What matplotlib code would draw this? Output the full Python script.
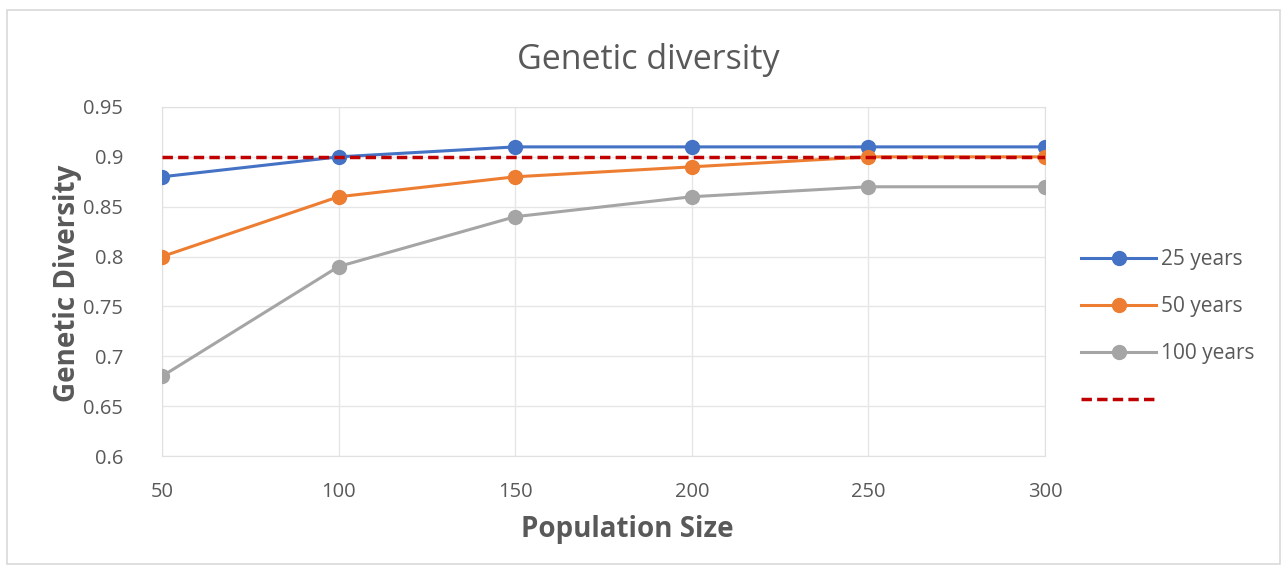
import matplotlib
matplotlib.use("Agg")
import matplotlib.pyplot as plt
from matplotlib.patches import Rectangle

plt.rcParams['font.family'] = ['Open Sans', 'DejaVu Sans']

population = [50, 100, 150, 200, 250, 300]
years25 = [0.88, 0.90, 0.91, 0.91, 0.91, 0.91]
years50 = [0.80, 0.86, 0.88, 0.89, 0.90, 0.90]
years100 = [0.68, 0.79, 0.84, 0.86, 0.87, 0.87]
threshold = [0.90] * len(population)
yticks = [0.6, 0.65, 0.7, 0.75, 0.8, 0.85, 0.9, 0.95]
ytick_labels = ['0.6', '0.65', '0.7', '0.75', '0.8', '0.85', '0.9', '0.95']

fig = plt.figure(figsize=(12.87, 5.69), dpi=100)
fig.patches.append(Rectangle((7/1287, 5/569), 1273/1287, 554/569, transform=fig.transFigure,
                             fill=False, edgecolor='#D9D9D9', linewidth=1.2))
ax = fig.add_axes([162/1287, 113/569, 883/1287, 349/569])

ax.plot(population, years25, color='#4472C4', marker='o', markersize=10, linewidth=2.2, label='25 years', zorder=4)
ax.plot(population, years50, color='#ED7D31', marker='o', markersize=10, linewidth=2.2, label='50 years', zorder=4)
ax.plot(population, years100, color='#A5A5A5', marker='o', markersize=10, linewidth=2.2, label='100 years', zorder=4)
ax.plot(population, threshold, color='#C00000', linestyle=(0, (3, 1.5)), linewidth=2.5, label=' ', zorder=5)

ax.set_xlim(50, 300)
ax.set_ylim(0.6, 0.95)
ax.set_xticks(population)
ax.set_yticks(yticks)
ax.set_yticklabels(ytick_labels)
ax.grid(True, color='#E6E6E6', linewidth=1)
ax.set_axisbelow(True)
for s in ax.spines.values():
    s.set_color('#E0E0E0')
ax.tick_params(length=0, colors='#595959', labelsize=14.5)
ax.tick_params(axis='x', pad=19)
ax.tick_params(axis='y', pad=28)

fig.text(648/1287, 1 - 60/569, 'Genetic diversity', fontsize=24.5, color='#595959', ha='center', va='center')
fig.text(627/1287, 1 - 530/569, 'Population Size', fontsize=20, color='#595959', fontweight='bold',
         ha='center', va='center')
fig.text(68/1287, 1 - 283/569, 'Genetic Diversity', fontsize=20, color='#595959', fontweight='bold',
         ha='center', va='center', rotation=90)

leg = ax.legend(loc='center left', bbox_to_anchor=(1.02, 0.36), frameon=False, fontsize=15,
                labelcolor='#595959', handlelength=3.6, labelspacing=1.25, handletextpad=0.2)

fig.savefig('out.png', dpi=100)
